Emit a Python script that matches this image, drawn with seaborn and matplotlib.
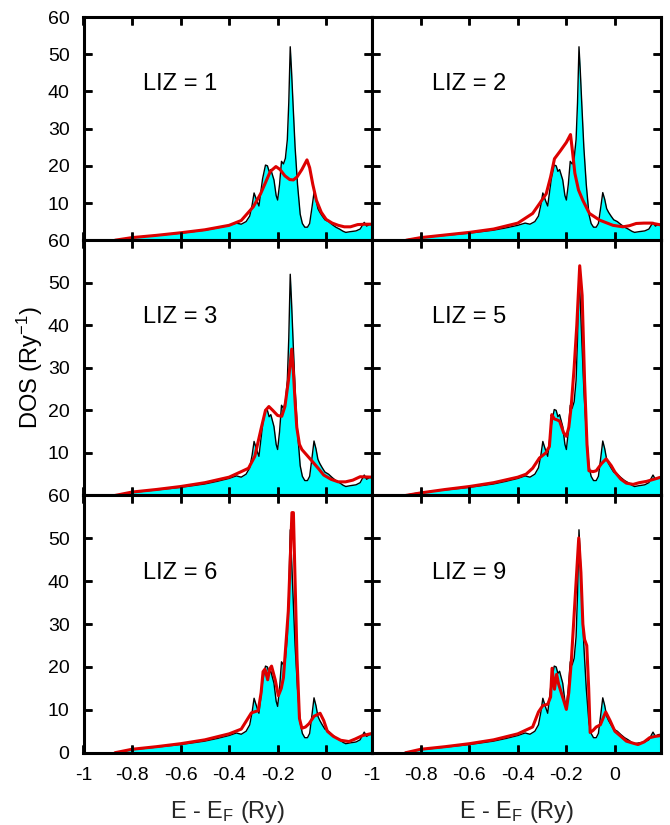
import pandas as pd
import matplotlib
matplotlib.use("Agg")
import matplotlib.pyplot as plt
import seaborn as sns

# reference DOS (black line, cyan fill) - same in every panel
x_ref = [-1.0, -0.87, -0.8, -0.7, -0.6, -0.5, -0.45, -0.4, -0.37, -0.35, -0.33, -0.315,
         -0.305, -0.297, -0.285, -0.277, -0.262, -0.25, -0.242, -0.235, -0.228, -0.215,
         -0.206, -0.2, -0.192, -0.184, -0.176, -0.168, -0.16, -0.154, -0.148, -0.143,
         -0.136, -0.128, -0.118, -0.107, -0.098, -0.088, -0.077, -0.068, -0.058, -0.05,
         -0.042, -0.034, -0.026, -0.016, -0.005, 0.01, 0.025, 0.04, 0.055, 0.07, 0.081,
         0.1, 0.123, 0.14, 0.157, 0.167, 0.178, 0.19]
dos_ref = [0, 0, 0.7, 1.3, 1.9, 2.7, 3.3, 4.0, 4.6, 4.3, 5.0, 6.5,
           9.5, 12.7, 10.5, 9.2, 16.5, 20.2, 20.0, 18.5, 19.0, 16.2,
           12.0, 10.8, 15.0, 21.2, 20.5, 22.0, 27.0, 37.0, 52.0, 46.0,
           36.0, 25.0, 15.0, 7.0, 4.5, 3.5, 3.5, 4.5, 9.0, 12.8,
           11.0, 8.5, 7.5, 6.5, 5.5, 5.0, 4.2, 3.5, 3.0, 2.4, 2.1,
           2.3, 2.5, 3.0, 4.8, 3.8, 4.2, 4.3]

# red curves, one per LIZ size
liz1_x = [-0.87, -0.8, -0.7, -0.6, -0.5, -0.4, -0.35, -0.3, -0.27, -0.25, -0.23, -0.207,
          -0.19, -0.17, -0.15, -0.135, -0.12, -0.1, -0.079, -0.068, -0.055, -0.04, -0.02,
          0.0, 0.025, 0.05, 0.075, 0.1, 0.13, 0.16, 0.19]
liz1_y = [0, 0.7, 1.3, 2.0, 2.8, 4.0, 5.3, 9.0, 12.5, 15.5, 18.5, 19.8,
          19.0, 17.3, 16.3, 16.2, 17.0, 19.0, 21.6, 19.5, 15.0, 10.7, 7.5,
          5.6, 4.6, 4.0, 3.6, 3.6, 4.2, 4.3, 4.3]

liz2_x = [-0.86, -0.8, -0.7, -0.6, -0.5, -0.4, -0.339, -0.311, -0.283, -0.265, -0.249,
          -0.225, -0.2, -0.183, -0.175, -0.165, -0.15, -0.132, -0.105, -0.063, -0.008,
          0.033, 0.06, 0.088, 0.12, 0.15, 0.19]
liz2_y = [0, 0.7, 1.4, 2.1, 3.0, 4.6, 7.2, 9.8, 12.5, 17.0, 21.9,
          24.0, 26.3, 28.4, 24.0, 18.0, 13.5, 10.7, 7.2, 5.4, 4.0,
          3.6, 3.9, 4.5, 4.6, 4.6, 4.1]

liz3_x = [-0.87, -0.8, -0.7, -0.6, -0.5, -0.4, -0.35, -0.32, -0.294, -0.266, -0.25,
          -0.236, -0.22, -0.2, -0.183, -0.17, -0.155, -0.142, -0.135, -0.128, -0.121,
          -0.11, -0.1, -0.08, -0.06, -0.03, -0.01, 0.02, 0.05, 0.08, 0.11, 0.14, 0.19]
liz3_y = [0, 0.8, 1.4, 2.1, 3.0, 4.3, 5.6, 6.4, 9.2, 16.2, 20.0,
          20.9, 20.0, 18.8, 18.6, 20.9, 27.2, 34.4, 29.0, 22.0, 16.0,
          12.0, 10.8, 9.5, 8.2, 6.2, 4.8, 3.8, 3.2, 3.2, 3.6, 4.4, 4.3]

liz5_x = [-0.862, -0.8, -0.7, -0.6, -0.5, -0.4, -0.366, -0.339, -0.311, -0.285, -0.27,
          -0.26, -0.25, -0.24, -0.228, -0.211, -0.2, -0.19, -0.18, -0.168, -0.157, -0.145,
          -0.135, -0.125, -0.115, -0.107, -0.09, -0.077, -0.055, -0.036, -0.015, 0.0,
          0.025, 0.047, 0.075, 0.1, 0.13, 0.16, 0.19]
liz5_y = [0, 0.6, 1.4, 2.1, 3.0, 4.3, 5.0, 6.4, 8.8, 10.0, 11.5,
          19.0, 18.0, 17.8, 17.5, 14.7, 13.9, 16.0, 21.0, 30.0, 40.0, 54.0,
          47.0, 27.0, 12.0, 5.8, 5.6, 5.8, 7.5, 8.6, 7.0, 5.5,
          3.8, 2.9, 2.6, 3.0, 3.3, 3.8, 4.3]

liz6_x = [-0.87, -0.8, -0.7, -0.6, -0.5, -0.4, -0.35, -0.308, -0.28, -0.268, -0.26,
          -0.252, -0.241, -0.233, -0.225, -0.21, -0.197, -0.185, -0.176, -0.165, -0.156,
          -0.148, -0.141, -0.135, -0.128, -0.12, -0.11, -0.1, -0.085, -0.07, -0.05,
          -0.025, -0.01, 0.005, 0.03, 0.06, 0.094, 0.12, 0.15, 0.19]
liz6_y = [0, 0.8, 1.4, 2.1, 3.0, 4.4, 5.5, 9.3, 9.8, 14.0, 18.9,
          19.5, 17.0, 19.5, 20.2, 17.0, 13.3, 15.0, 17.5, 26.0, 33.0,
          45.0, 56.0, 56.0, 40.0, 22.0, 8.0, 5.7, 6.0, 6.8, 8.5,
          9.2, 7.5, 5.0, 3.8, 2.9, 2.6, 3.2, 4.0, 4.5]

liz9_x = [-0.862, -0.8, -0.7, -0.6, -0.5, -0.4, -0.339, -0.315, -0.297, -0.277, -0.265,
          -0.259, -0.249, -0.24, -0.232, -0.221, -0.21, -0.2, -0.19, -0.18, -0.165, -0.149,
          -0.14, -0.132, -0.125, -0.116, -0.108, -0.102, -0.09, -0.077, -0.06, -0.038,
          -0.02, 0.0, 0.025, 0.047, 0.07, 0.095, 0.12, 0.143, 0.165, 0.19]
liz9_y = [0, 0.8, 1.4, 2.1, 3.0, 4.4, 6.0, 9.5, 11.0, 11.3, 13.0,
          19.7, 14.8, 18.3, 16.0, 14.0, 12.0, 10.1, 14.0, 21.0, 35.0, 50.1,
          42.0, 30.0, 26.4, 25.0, 15.0, 4.7, 5.2, 6.0, 6.5, 9.5,
          7.5, 5.0, 3.8, 2.7, 2.3, 1.9, 2.5, 3.5, 3.8, 4.0]

panel_labels = ["LIZ = 1", "LIZ = 2", "LIZ = 3", "LIZ = 5", "LIZ = 6", "LIZ = 9"]
red_x = [liz1_x, liz2_x, liz3_x, liz5_x, liz6_x, liz9_x]
red_y = [liz1_y, liz2_y, liz3_y, liz5_y, liz6_y, liz9_y]

x_ticks = [-1, -0.8, -0.6, -0.4, -0.2, 0]
x_ticklabels = ["-1", "-0.8", "-0.6", "-0.4", "-0.2", "0"]
y_ticks = [0, 10, 20, 30, 40, 50, 60]

sns.set_theme(style="ticks")
plt.rcParams["font.family"] = ["Liberation Sans", "DejaVu Sans"]
plt.rcParams["mathtext.fontset"] = "custom"
plt.rcParams["mathtext.rm"] = "Liberation Sans"
plt.rcParams["mathtext.it"] = "Liberation Sans:italic"
plt.rcParams.update({
    "axes.edgecolor": "black",
    "axes.axisbelow": False,
    "xtick.color": "black",
    "ytick.color": "black",
    "xtick.direction": "in",
    "ytick.direction": "in",
    "xtick.top": True,
    "ytick.right": True,
    "xtick.major.size": 6,
    "ytick.major.size": 6,
    "xtick.major.width": 1.8,
    "ytick.major.width": 1.8,
    "text.color": "black",
})

fig, axes = plt.subplots(3, 2, figsize=(6.7, 8.25), dpi=100,
                         gridspec_kw={"height_ratios": [223, 255, 257],
                                      "hspace": 0, "wspace": 0})
fig.subplots_adjust(left=83.5 / 670, right=661 / 670, top=1 - 17 / 825, bottom=1 - 752.7 / 825)

ref = pd.DataFrame({"E": x_ref, "DOS": dos_ref})

for i, ax in enumerate(axes.flat):
    row, col = divmod(i, 2)
    ax.fill_between(ref["E"], ref["DOS"], 0, color="#00ffff", lw=0, zorder=1)
    sns.lineplot(data=ref, x="E", y="DOS", ax=ax, color="black", lw=1.0,
                 estimator=None, sort=False, zorder=2)
    red = pd.DataFrame({"E": red_x[i], "DOS": red_y[i]})
    sns.lineplot(data=red, x="E", y="DOS", ax=ax, color="#dd0000", lw=2.2,
                 estimator=None, sort=False, zorder=3)

    ax.set_xlim(-1, 0.19)
    ax.set_ylim(0, 60)
    ax.set_xticks(x_ticks)
    ax.set_yticks(y_ticks)
    ax.text(-0.755, 42, panel_labels[i], fontsize=17, ha="left", va="center")

    ax.set_axisbelow(False)
    ax.tick_params(which="major", direction="in", top=True, right=True,
                   bottom=True, left=True, length=6, width=1.8, color="black",
                   labelsize=14, pad=10)
    ax.xaxis.set_zorder(6)
    ax.yaxis.set_zorder(6)

    # inward tick marks on all four sides, drawn as markers so they always show
    xt = ax.get_xaxis_transform()
    yt = ax.get_yaxis_transform()
    tick_style = dict(ls="none", color="black", ms=6, mew=1.8, clip_on=False, zorder=7)
    ax.plot(x_ticks, [0] * len(x_ticks), marker=2, transform=xt, **tick_style)
    ax.plot(x_ticks, [1] * len(x_ticks), marker=3, transform=xt, **tick_style)
    ax.plot([0] * len(y_ticks), y_ticks, marker=1, transform=yt, **tick_style)
    ax.plot([1] * len(y_ticks), y_ticks, marker=0, transform=yt, **tick_style)

    for sp in ax.spines.values():
        sp.set_linewidth(2.2)
        sp.set_color("black")
        sp.set_zorder(5)

    if row == 2:
        ax.set_xticklabels(x_ticklabels)
        ax.set_xlabel("E - E$_\\mathrm{F}$ (Ry)", fontsize=17, labelpad=11)
    else:
        ax.set_xticklabels([])
        ax.set_xlabel("")
    if col == 0:
        if row == 2:
            ax.set_yticklabels([str(v) for v in y_ticks])
        else:
            ax.set_yticklabels([""] + [str(v) for v in y_ticks[1:]])
    else:
        ax.set_yticklabels([])
    ax.set_ylabel("")

fig.text(30 / 670, 1 - 368 / 825, "DOS (Ry$^{\\mathrm{-1}}$)", fontsize=17,
         rotation=90, ha="center", va="center")

fig.savefig("out.png", dpi=100, facecolor="white")
